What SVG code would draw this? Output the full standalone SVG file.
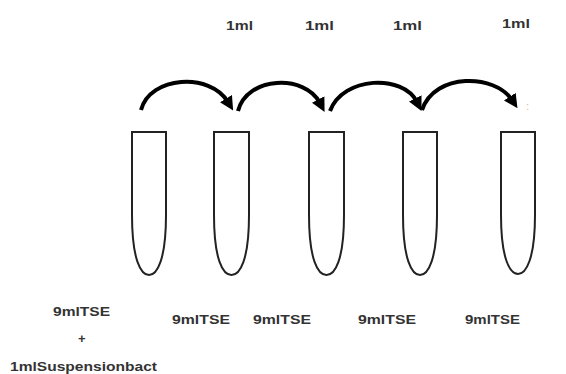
<svg xmlns="http://www.w3.org/2000/svg" width="566" height="374" viewBox="0 0 566 374">
<style>
.tube{fill:#fff;stroke:#222;stroke-width:2}
.arc{fill:none;stroke:#000;stroke-width:4;stroke-linecap:butt}
.lbl{font-family:"Liberation Sans",Arial,sans-serif;font-size:13px;font-weight:bold;fill:#333;text-anchor:start}
</style>
<defs>
<marker id="ah" markerWidth="3.5" markerHeight="3.5" refX="1" refY="1.75" orient="auto" markerUnits="strokeWidth">
<path d="M0,0 L3.5,1.75 L0,3.5 Z" fill="#000"/>
</marker>
</defs>
<rect width="566" height="374" fill="#fff"/>
<g id="tube1"><path class="tube" d="M132,132 H166 V215 C166,260 157,275 149,275 C141,275 132,260 132,215 Z"/></g>
<g id="tube2"><path class="tube" d="M214,132 H249 V215 C249,260 240,275 231.5,275 C223,275 214,260 214,215 Z"/></g>
<g id="tube3"><path class="tube" d="M309,132 H344 V215 C344,260 335,275 326.5,275 C318,275 309,260 309,215 Z"/></g>
<g id="tube4"><path class="tube" d="M403,132 H437 V215 C437,260 428,275 420,275 C412,275 403,260 403,215 Z"/></g>
<g id="tube5"><path class="tube" d="M501,132 H535 V215 C535,259 526,274 518,274 C510,274 501,259 501,215 Z"/></g>
<g id="connectors">
<path class="arc" marker-end="url(#ah)" d="M141,110 C150,76 210,72 228,102"/>
<path class="arc" marker-end="url(#ah)" d="M238,111 C247,76 305,74 320,103"/>
<path class="arc" marker-end="url(#ah)" d="M330,111 C343,76 403,74 417,102"/>
<path class="arc" marker-end="url(#ah)" d="M422,110 C435,72 495,74 512,100"/>
</g>
<g id="labels">
<text class="lbl" x="226" y="30" textLength="27" lengthAdjust="spacingAndGlyphs">1ml</text>
<text class="lbl" x="305" y="30" textLength="29" lengthAdjust="spacingAndGlyphs">1ml</text>
<text class="lbl" x="393" y="30" textLength="29" lengthAdjust="spacingAndGlyphs">1ml</text>
<text class="lbl" x="502" y="28" textLength="28" lengthAdjust="spacingAndGlyphs">1ml</text>
<text x="526" y="110" font-family="Liberation Sans,sans-serif" font-size="11" fill="#d8b89a">:</text>
<text class="lbl" x="53" y="316" textLength="57" lengthAdjust="spacingAndGlyphs">9mlTSE</text>
<text class="lbl" x="78" y="343">+</text>
<text class="lbl" x="10" y="371" textLength="147" lengthAdjust="spacingAndGlyphs">1mlSuspensionbact</text>
<text class="lbl" x="172" y="324" textLength="58" lengthAdjust="spacingAndGlyphs">9mlTSE</text>
<text class="lbl" x="253" y="324" textLength="58" lengthAdjust="spacingAndGlyphs">9mlTSE</text>
<text class="lbl" x="358" y="324" textLength="58" lengthAdjust="spacingAndGlyphs">9mlTSE</text>
<text class="lbl" x="465" y="324" textLength="55" lengthAdjust="spacingAndGlyphs">9mlTSE</text>
</g>
</svg>
